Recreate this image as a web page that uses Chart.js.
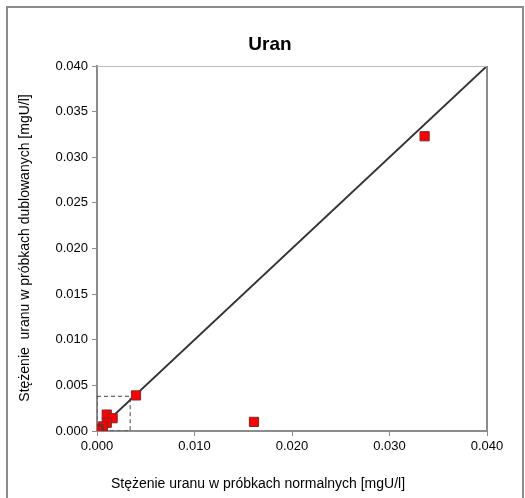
<!DOCTYPE html>
<html>
<head>
<meta charset="utf-8">
<script src="https://cdn.jsdelivr.net/npm/chart.js@4/dist/chart.umd.min.js"></script>
<style>
  html, body { margin: 0; padding: 0; background: #fff; }
  #wrap { width: 525px; height: 498px; position: relative; }
</style>
</head>
<body>
<div id="wrap"><canvas id="myChart" width="525" height="498"></canvas></div>
<script>
// measured concentrations [mgU/l]
const normalSamples = [0.0336, 0.0161, 0.0040, 0.0010, 0.0016, 0.0010, 0.0006, 0.0002, 0.0001, 0.0000];
const duplicateSamples = [0.0323, 0.0010, 0.0039, 0.0018, 0.0014, 0.0009, 0.0005, 0.0002, 0.0001, 0.0000];

// 1:1 reference line
const lineX = [0, 0.04];
const lineY = [0, 0.04];

// dashed zoom box near the origin
const boxX = [0, 0.0034, 0.0034, 0, 0];
const boxY = [0.0038, 0.0038, 0, 0, 0.0038];

const yTicks = [0, 0.005, 0.010, 0.015, 0.020, 0.025, 0.030, 0.035, 0.040];
const xTicks = [0, 0.010, 0.020, 0.030, 0.040];

const chartTitle = 'Uran';
const xTitle = 'Stężenie uranu w próbkach normalnych [mgU/l]';
const yTitle = 'Stężenie  uranu w próbkach dublowanych [mgU/l]';

const toPoints = (xs, ys) => xs.map((x, i) => ({ x: x, y: ys[i] }));
const FONT = '"Liberation Sans", Arial, sans-serif';

// frame around the picture, plot border and titles
const framePlugin = {
  id: 'frame',
  beforeDraw(chart) {
    const ctx = chart.ctx;
    ctx.save();
    ctx.strokeStyle = '#8c8c8c';
    ctx.lineWidth = 2;
    ctx.beginPath();
    ctx.moveTo(7, 498);
    ctx.lineTo(7, 7);
    ctx.lineTo(523, 7);
    ctx.lineTo(523, 498);
    ctx.stroke();
    ctx.restore();
  },
  afterDatasetsDraw(chart) {
    const ctx = chart.ctx;
    const a = chart.chartArea;
    ctx.save();
    ctx.strokeStyle = '#bdbdbd';
    ctx.lineWidth = 1;
    ctx.beginPath();
    ctx.moveTo(a.left, a.top + 0.5);
    ctx.lineTo(a.right, a.top + 0.5);
    ctx.stroke();
    ctx.strokeStyle = '#8c8c8c';
    ctx.lineWidth = 2;
    ctx.beginPath();
    ctx.moveTo(a.right, a.top);
    ctx.lineTo(a.right, a.bottom);
    ctx.stroke();

    ctx.fillStyle = '#000';
    ctx.textAlign = 'center';
    ctx.textBaseline = 'middle';
    ctx.font = 'bold 19px ' + FONT;
    ctx.fillText(chartTitle, 270, 45);
    ctx.font = '14px ' + FONT;
    ctx.fillText(xTitle, 258, 484);
    ctx.translate(25, 248);
    ctx.rotate(-Math.PI / 2);
    ctx.fillText(yTitle, 0, 0);
    ctx.restore();
  }
};

function generateChart() {
  var ctx = document.getElementById('myChart').getContext('2d');
  window.myChart = new Chart(ctx, {
    type: 'scatter',
    data: {
      datasets: [
        {
          label: 'Uran',
          data: toPoints(normalSamples, duplicateSamples),
          backgroundColor: '#ff0000',
          borderColor: '#7a2a2a',
          borderWidth: 1,
          pointStyle: 'rect',
          pointRadius: 6.5,
          order: 0
        },
        {
          label: 'linia',
          type: 'line',
          data: toPoints(lineX, lineY),
          borderColor: '#333333',
          borderWidth: 2,
          pointRadius: 0,
          fill: false,
          order: 1
        },
        {
          label: 'ramka',
          type: 'line',
          data: toPoints(boxX, boxY),
          borderColor: '#444444',
          borderWidth: 1,
          borderDash: [4, 3],
          pointRadius: 0,
          fill: false,
          order: 2
        }
      ]
    },
    options: {
      responsive: false,
      animation: false,
      layout: { padding: { top: 66, right: 38, left: 0, bottom: 0 } },
      scales: {
        x: {
          type: 'linear',
          min: 0,
          max: 0.04,
          afterFit: s => { s.height = 67; },
          afterBuildTicks: s => { s.ticks = xTicks.map(v => ({ value: v })); },
          grid: { display: true, drawOnChartArea: false, drawTicks: true, tickLength: 5, color: '#8c8c8c' },
          border: { display: true, color: '#8c8c8c', width: 2 },
          ticks: {
            color: '#000',
            padding: 3,
            font: { family: FONT, size: 13 },
            callback: v => v.toFixed(3)
          }
        },
        y: {
          type: 'linear',
          min: 0,
          max: 0.04,
          afterFit: s => { s.width = 97; },
          afterBuildTicks: s => { s.ticks = yTicks.map(v => ({ value: v })); },
          grid: { display: true, drawOnChartArea: false, drawTicks: true, tickLength: 5, color: '#8c8c8c' },
          border: { display: true, color: '#8c8c8c', width: 2 },
          ticks: {
            color: '#000',
            padding: 4,
            font: { family: FONT, size: 13 },
            callback: v => v.toFixed(3)
          }
        }
      },
      plugins: {
        legend: { display: false },
        title: { display: false },
        tooltip: { enabled: false }
      }
    },
    plugins: [framePlugin]
  });
}

generateChart();
</script>
</body>
</html>
